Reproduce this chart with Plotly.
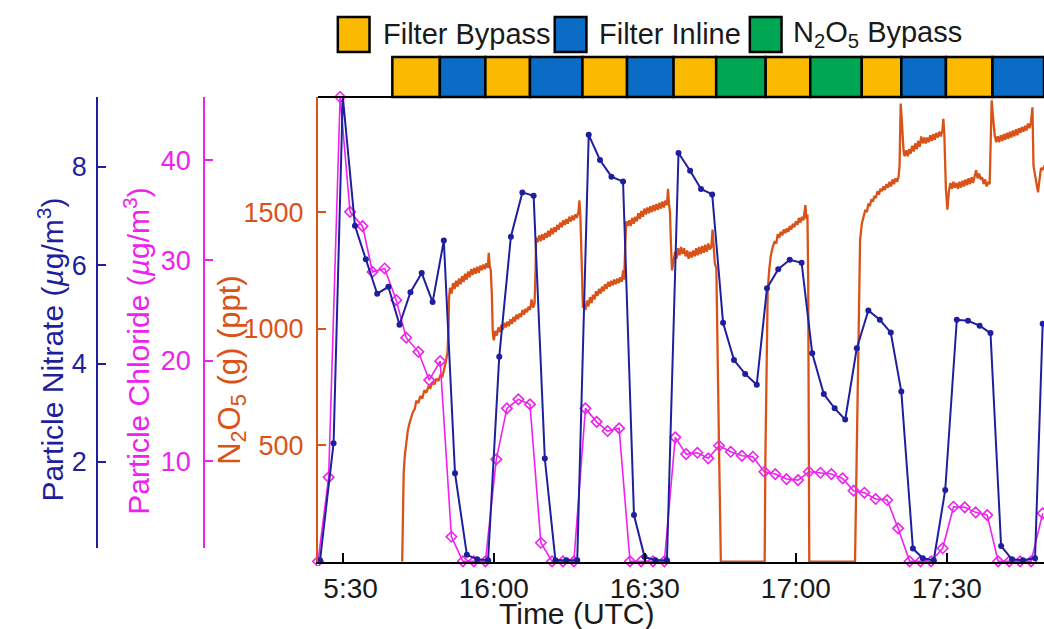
import plotly.graph_objects as go

W, H = 1044, 629
FONT = "Liberation Sans, Arial, Helvetica, sans-serif"
ORANGE = "#d95319"
BLUE = "#1f1f9e"
MAGENTA = "#ee22ee"
TXT = "#1a1a1a"

# ---------------- data (time = minutes after 15:00 UTC) ----------------
# N2O5 (ppt), read segment by segment
n2o5_a = [(41.8, 0), (41.95, 200), (42.1, 380), (42.3, 450), (42.6, 510), (42.9, 560), (43.2, 590),
          (43.5, 610), (43.9, 640), (44.3, 655), (44.6, 690), (45.0, 680), (45.4, 710), (45.8, 700),
          (46.2, 735), (46.6, 725), (47.0, 750), (47.4, 745), (47.8, 770), (48.2, 760), (48.6, 785),
          (49.0, 775), (49.4, 800), (49.8, 795), (50.2, 830), (50.5, 860), (50.8, 900), (51.0, 1000),
          (51.1, 1130)]
n2o5_b = [(51.3, 1175), (51.6, 1150), (51.9, 1195), (52.2, 1170), (52.5, 1205), (52.8, 1180),
          (53.1, 1215), (53.4, 1190), (53.7, 1225), (54.0, 1200), (54.3, 1235), (54.6, 1210),
          (54.9, 1245), (55.2, 1220), (55.5, 1255), (55.8, 1230), (56.1, 1260), (56.4, 1235),
          (56.7, 1265), (57.0, 1240), (57.3, 1270), (57.6, 1250), (57.9, 1275), (58.2, 1255),
          (58.5, 1280), (58.8, 1260), (59.0, 1325), (59.2, 1265), (59.4, 1250), (59.6, 1150),
          (59.8, 980), (60.0, 950)]
n2o5_c = [(60.3, 990), (60.6, 970), (60.9, 1005), (61.2, 985), (61.5, 1015), (61.8, 995), (62.1, 1025),
          (62.4, 1005), (62.7, 1030), (63.0, 1010), (63.3, 1040), (63.6, 1020), (63.9, 1050),
          (64.2, 1030), (64.5, 1060), (64.8, 1040), (65.1, 1065), (65.4, 1050), (65.7, 1080),
          (66.0, 1060), (66.3, 1085), (66.6, 1070), (66.9, 1095), (67.2, 1080), (67.5, 1125),
          (67.8, 1090), (68.1, 1110), (68.3, 1250), (68.4, 1390)]
n2o5_d = [(68.7, 1370), (69.0, 1400), (69.3, 1375), (69.6, 1405), (69.9, 1380), (70.2, 1410),
          (70.5, 1390), (70.8, 1420), (71.1, 1395), (71.4, 1430), (71.7, 1405), (72.0, 1435),
          (72.3, 1415), (72.6, 1445), (72.9, 1425), (73.2, 1455), (73.5, 1435), (73.8, 1465),
          (74.1, 1445), (74.4, 1470), (74.7, 1450), (75.0, 1480), (75.3, 1460), (75.6, 1485),
          (75.9, 1465), (76.2, 1490), (76.5, 1475), (76.8, 1500), (77.0, 1550), (77.2, 1480),
          (77.5, 1250), (77.7, 1090)]
n2o5_e = [(77.9, 1100), (78.2, 1080), (78.5, 1120), (78.8, 1095), (79.1, 1135), (79.4, 1110),
          (79.7, 1145), (80.0, 1125), (80.3, 1160), (80.6, 1140), (80.9, 1170), (81.2, 1150),
          (81.5, 1180), (81.8, 1160), (82.1, 1190), (82.4, 1170), (82.7, 1200), (83.0, 1180),
          (83.3, 1205), (83.6, 1185), (83.9, 1210), (84.2, 1190), (84.5, 1215), (84.8, 1195),
          (85.1, 1220), (85.4, 1200), (85.7, 1250), (85.9, 1210), (86.1, 1350), (86.3, 1460)]
n2o5_f = [(86.6, 1440), (86.9, 1465), (87.2, 1440), (87.5, 1475), (87.8, 1450), (88.1, 1480),
          (88.4, 1460), (88.7, 1495), (89.0, 1470), (89.3, 1505), (89.6, 1480), (89.9, 1515),
          (90.2, 1490), (90.5, 1520), (90.8, 1495), (91.1, 1525), (91.4, 1500), (91.7, 1530),
          (92.0, 1505), (92.3, 1535), (92.6, 1510), (92.9, 1540), (93.2, 1515), (93.5, 1545),
          (93.8, 1520), (94.1, 1550), (94.4, 1530), (94.6, 1600), (94.8, 1535), (95.0, 1500),
          (95.2, 1350), (95.4, 1250)]
n2o5_g = [(95.7, 1290), (96.0, 1330), (96.3, 1300), (96.6, 1345), (96.9, 1315), (97.2, 1350),
          (97.5, 1320), (97.8, 1345), (98.1, 1310), (98.4, 1335), (98.7, 1300), (99.0, 1330),
          (99.3, 1305), (99.6, 1335), (99.9, 1310), (100.2, 1345), (100.5, 1315), (100.8, 1350),
          (101.1, 1320), (101.4, 1355), (101.7, 1325), (102.0, 1360), (102.3, 1330), (102.6, 1365),
          (102.9, 1340), (103.2, 1350), (103.45, 1425), (103.65, 1330), (103.9, 1280), (104.2, 1260),
          (104.5, 900), (104.8, 400), (105.1, 0), (113.8, 0)]
n2o5_h = [(113.95, 450), (114.1, 800), (114.25, 1000), (114.4, 1160), (114.7, 1250), (115.0, 1310),
          (115.4, 1350), (115.8, 1375), (116.1, 1365), (116.4, 1405), (116.7, 1390), (117.0, 1415),
          (117.3, 1400), (117.6, 1425), (117.9, 1410), (118.2, 1430), (118.5, 1415), (118.8, 1440),
          (119.1, 1425), (119.4, 1450), (119.7, 1435), (120.0, 1460), (120.3, 1445), (120.6, 1475),
          (120.9, 1455), (121.2, 1480), (121.5, 1465), (121.9, 1530), (122.1, 1470), (122.3, 1490),
          (122.45, 1200), (122.55, 600), (122.66, 0), (131.75, 0)]
n2o5_i = [(132.0, 350), (132.2, 650), (132.44, 950), (132.6, 1250), (132.76, 1380), (133.1, 1450),
          (133.43, 1480), (133.8, 1510), (134.1, 1500), (134.41, 1537), (134.7, 1525), (135.0, 1555),
          (135.3, 1545), (135.6, 1570), (135.9, 1560), (136.2, 1590), (136.5, 1575), (136.8, 1600),
          (137.1, 1590), (137.4, 1610), (137.7, 1595), (138.0, 1620), (138.3, 1605), (138.6, 1630),
          (138.9, 1610), (139.2, 1640), (139.5, 1620), (139.8, 1645), (140.1, 1630), (140.4, 1650),
          (140.6, 1700), (140.82, 1966)]
n2o5_j = [(141.0, 1910), (141.2, 1830), (141.4, 1760), (141.6, 1740), (141.9, 1765), (142.2, 1740),
          (142.5, 1770), (142.8, 1750), (143.1, 1785), (143.4, 1760), (143.7, 1795), (144.0, 1770),
          (144.3, 1805), (144.6, 1780), (144.9, 1825), (145.2, 1795), (145.5, 1820), (145.8, 1795),
          (146.1, 1820), (146.4, 1800), (146.7, 1830), (147.0, 1805), (147.3, 1835), (147.6, 1810),
          (147.9, 1840), (148.2, 1820), (148.5, 1845), (148.8, 1825), (149.1, 1850), (149.3, 1900),
          (149.5, 1830), (149.8, 1600), (150.1, 1510)]
n2o5_k = [(150.4, 1590), (150.7, 1625), (151.0, 1600), (151.3, 1630), (151.6, 1605), (151.9, 1625),
          (152.2, 1600), (152.5, 1630), (152.8, 1605), (153.1, 1635), (153.4, 1610), (153.7, 1640),
          (154.0, 1615), (154.3, 1645), (154.6, 1620), (154.9, 1650), (155.2, 1625), (155.5, 1660),
          (155.8, 1680), (156.1, 1645), (156.4, 1665), (156.7, 1640), (157.0, 1650), (157.3, 1620),
          (157.6, 1640), (157.9, 1610), (158.2, 1630), (158.5, 1620), (158.7, 1800), (158.9, 1980)]
n2o5_l = [(159.2, 1900), (159.5, 1830), (159.8, 1800), (160.1, 1825), (160.4, 1800), (160.7, 1830),
          (161.0, 1805), (161.3, 1835), (161.6, 1810), (161.9, 1840), (162.2, 1815), (162.5, 1845),
          (162.8, 1820), (163.1, 1850), (163.4, 1825), (163.7, 1855), (164.0, 1830), (164.3, 1860),
          (164.6, 1840), (164.9, 1865), (165.2, 1845), (165.5, 1870), (165.8, 1850), (166.1, 1880),
          (166.4, 1860), (166.7, 1885), (167.0, 1950), (167.2, 1700), (167.5, 1660), (167.8, 1620),
          (168.1, 1585), (168.4, 1640), (168.7, 1690), (169.0, 1680), (169.4, 1700)]

# Particle nitrate (ug/m3)
nitrate = [(25.48, 0.0), (28.17, 2.38), (30.0, 9.43), (32.42, 6.80), (34.58, 6.12), (36.83, 5.42),
           (39.05, 5.56), (41.27, 4.79), (43.44, 5.45), (45.68, 5.84), (47.84, 5.25), (50.07, 6.50),
           (52.29, 1.77), (54.65, 0.11), (56.70, 0.02), (58.86, 0.0), (61.08, 4.14), (63.39, 6.58),
           (65.67, 7.48), (67.91, 7.41), (70.13, 2.07), (72.24, 0.0), (74.40, 0.0), (76.57, 0.0),
           (78.85, 8.65), (81.09, 8.14), (83.37, 7.80), (85.67, 7.70), (87.84, 0.92), (89.94, 0.07),
           (92.11, 0.0), (94.39, 0.0), (96.69, 8.28), (98.99, 7.92), (101.16, 7.55), (103.38, 7.44),
           (105.54, 4.83), (107.71, 4.07), (109.93, 3.79), (112.23, 3.57), (114.26, 5.53),
           (116.50, 5.92), (118.78, 6.11), (121.14, 6.05), (123.25, 4.21), (125.55, 3.38),
           (127.71, 3.09), (129.80, 2.86), (132.10, 4.31), (134.40, 5.08), (136.68, 4.89),
           (138.85, 4.63), (140.95, 3.43), (143.25, 0.24), (145.22, 0.04), (147.39, 0.0),
           (149.67, 1.43), (151.97, 4.89), (154.20, 4.87), (156.50, 4.77), (158.66, 4.62),
           (160.77, 0.29), (162.93, 0.02), (165.10, 0.0), (167.51, 0.04), (169.03, 4.81)]

# Particle chloride (ug/m3)
chloride = [(25.08, 0.0), (27.19, 8.37), (29.47, 46.3), (31.44, 34.85), (33.93, 33.42), (35.90, 28.86),
            (38.32, 29.20), (40.62, 26.04), (42.59, 22.3), (45.01, 20.89), (47.17, 18.07),
            (49.34, 19.96), (51.58, 2.45), (53.86, 0.0), (56.03, 0.0), (58.33, 0.0), (60.49, 10.17),
            (62.60, 15.25), (64.88, 16.15), (67.18, 15.65), (69.35, 1.85), (71.57, 0.0), (73.74, 0.0),
            (75.90, 0.0), (78.20, 15.25), (80.42, 13.91), (82.59, 12.99), (84.89, 13.26), (87.05, 0.0),
            (89.27, 0.0), (91.63, 0.0), (93.88, 0.0), (96.04, 12.36), (98.20, 10.69), (100.43, 10.82),
            (102.59, 10.27), (104.76, 11.52), (107.06, 10.92), (109.28, 10.52), (111.45, 10.43),
            (113.75, 8.93), (115.91, 8.70), (118.14, 8.20), (120.44, 8.10), (122.60, 8.93),
            (124.88, 8.83), (127.05, 8.70), (129.29, 8.27), (131.45, 7.04), (133.62, 6.84),
            (135.84, 6.21), (138.14, 6.11), (140.31, 3.29), (142.59, 0.0), (144.75, 0.0),
            (146.86, 0.0), (149.16, 1.30), (151.32, 5.44), (153.55, 5.38), (155.71, 4.88),
            (158.01, 4.61), (160.18, 0.0), (162.40, 0.0), (164.56, 0.0), (166.73, 0.0), (169.03, 4.78)]

# sampling mode schedule
mode_start = [39.84, 49.28, 58.33, 67.18, 77.61, 86.46, 95.71, 104.17, 114.0, 122.86, 133.09, 140.95,
              149.81, 159.05]
mode_end = mode_start[1:] + [169.3]
mode_kind = ["bypass", "inline", "bypass", "inline", "bypass", "inline", "bypass", "n2o5",
             "bypass", "n2o5", "bypass", "inline", "bypass", "inline"]
mode_labels = {"bypass": "Filter Bypass", "inline": "Filter Inline",
               "n2o5": "N<sub>2</sub>O<sub>5</sub> Bypass"}
mode_colors = {"bypass": "#fbb900", "inline": "#0a6cc4", "n2o5": "#00a651"}

xtick_vals = [30, 60, 90, 120, 150]
xtick_text = ["15:30", "16:00", "16:30", "17:00", "17:30"]
n2o5_ticks = [500, 1000, 1500]
nitrate_ticks = [2, 4, 6, 8]
chloride_ticks = [10, 20, 30, 40]


def px(x):
    return x / W


def py(y):
    return 1 - y / H


n2o5 = n2o5_a + n2o5_b + n2o5_c + n2o5_d + n2o5_e + n2o5_f + n2o5_g + n2o5_h + n2o5_i + n2o5_j + n2o5_k + n2o5_l
n_t, n_v = zip(*n2o5)
ni_t, ni_v = zip(*nitrate)
cl_t, cl_v = zip(*chloride)

fig = go.Figure()
fig.add_trace(go.Scatter(x=n_t, y=n_v, mode="lines", yaxis="y", line=dict(color=ORANGE, width=2.3),
                         showlegend=False, hoverinfo="skip"))
fig.add_trace(go.Scatter(x=cl_t, y=cl_v, mode="lines+markers", yaxis="y2",
                         line=dict(color=MAGENTA, width=1.6),
                         marker=dict(symbol="diamond-open", size=8, color=MAGENTA,
                                     line=dict(width=1.6, color=MAGENTA)),
                         showlegend=False, cliponaxis=False))
fig.add_trace(go.Scatter(x=ni_t, y=ni_v, mode="lines+markers", yaxis="y3",
                         line=dict(color=BLUE, width=2),
                         marker=dict(symbol="circle", size=6, color=BLUE),
                         showlegend=False, cliponaxis=False))
# carriers for the offset (free) axes
fig.add_trace(go.Scatter(x=[None], y=[None], yaxis="y4", showlegend=False, hoverinfo="skip"))
fig.add_trace(go.Scatter(x=[None], y=[None], yaxis="y5", showlegend=False, hoverinfo="skip"))

plot_dom = [py(562), py(97)]
side_dom = [py(548), py(97)]

common_y = dict(showgrid=False, zeroline=False, ticks="inside", ticklen=8, tickwidth=1.5,
                showline=True, linewidth=2)

fig.update_layout(
    width=W, height=H, margin=dict(l=0, r=0, t=0, b=0),
    paper_bgcolor="white", plot_bgcolor="rgba(0,0,0,0)",
    font=dict(family=FONT, color=TXT),
    xaxis=dict(domain=[px(311), 1], range=[25.08, 169.29], tickvals=xtick_vals, ticktext=xtick_text,
               ticks="inside", ticklen=9, tickwidth=1.5, tickcolor="black", showline=True,
               linecolor="black", linewidth=2, showgrid=False, zeroline=False, anchor="y",
               tickfont=dict(size=28, color=TXT, family=FONT), ticklabelstandoff=0),
    yaxis=dict(domain=plot_dom, range=[-2, 1994], tickvals=n2o5_ticks, color=ORANGE,
               linecolor=ORANGE, tickcolor=ORANGE, tickfont=dict(size=27, color=ORANGE, family=FONT),
               ticklabelstandoff=7, **common_y),
    yaxis2=dict(overlaying="y", range=[-0.07, 46.3], visible=False),
    yaxis3=dict(overlaying="y", range=[-0.035, 9.42], visible=False),
    yaxis4=dict(domain=side_dom, range=[0.25, 9.42], anchor="free", position=px(88), side="left",
                tickvals=nitrate_ticks, linecolor=BLUE, tickcolor=BLUE,
                tickfont=dict(size=27, color=BLUE, family=FONT), ticklabelstandoff=4, **common_y),
    yaxis5=dict(domain=side_dom, range=[1.33, 46.3], anchor="free", position=px(196), side="left",
                tickvals=chloride_ticks, linecolor=MAGENTA, tickcolor=MAGENTA,
                tickfont=dict(size=27, color=MAGENTA, family=FONT), ticklabelstandoff=7, **common_y),
)

shapes = []
# top border of plot box
shapes.append(dict(type="line", xref="paper", yref="paper", x0=px(311), x1=1, y0=py(97), y1=py(97),
                   line=dict(color="black", width=2)))
# sampling-mode bar
for s, e, k in zip(mode_start, mode_end, mode_kind):
    shapes.append(dict(type="rect", xref="x", yref="paper", x0=s, x1=e, y0=py(97), y1=py(57),
                       fillcolor=mode_colors[k], line=dict(color="black", width=2.5), layer="above"))
# legend swatches
legend_order = ["bypass", "inline", "n2o5"]
legend_box_x = [331, 550, 747]
legend_text_x = [375, 593, 789]
for k, bx in zip(legend_order, legend_box_x):
    shapes.append(dict(type="rect", xref="paper", yref="paper", x0=px(bx), x1=px(bx + 32),
                       y0=py(52), y1=py(17), fillcolor=mode_colors[k],
                       line=dict(color="black", width=2.5)))
# hide the leading "1" of the first time label (clipped in the original)
shapes.append(dict(type="rect", xref="paper", yref="paper", x0=px(280), x1=px(316.5), y0=py(606),
                   y1=py(566), fillcolor="white", line=dict(width=0), layer="above"))

annotations = []
for k, tx in zip(legend_order, legend_text_x):
    annotations.append(dict(xref="paper", yref="paper", x=px(tx), y=py(34), xanchor="left",
                            yanchor="middle", text=mode_labels[k], showarrow=False,
                            font=dict(size=29, color=TXT, family=FONT)))
annotations += [
    dict(xref="paper", yref="paper", x=px(572), y=py(613), text="Time (UTC)", showarrow=False,
         xanchor="center", yanchor="middle", font=dict(size=30, color=TXT, family=FONT)),
    dict(xref="paper", yref="paper", x=px(41), y=py(350), text="Particle Nitrate (<i>µ</i>g/m<sup>3</sup>)",
         textangle=-90, showarrow=False, xanchor="center", yanchor="middle",
         font=dict(size=30, color=BLUE, family=FONT)),
    dict(xref="paper", yref="paper", x=px(128), y=py(351), text="Particle Chloride (<i>µ</i>g/m<sup>3</sup>)",
         textangle=-90, showarrow=False, xanchor="center", yanchor="middle",
         font=dict(size=30, color=MAGENTA, family=FONT)),
    dict(xref="paper", yref="paper", x=px(224), y=py(370), text="N<sub>2</sub>O<sub>5</sub> (g) (ppt)",
         textangle=-90, showarrow=False, xanchor="center", yanchor="middle",
         font=dict(size=31, color=ORANGE, family=FONT)),
]

fig.update_layout(shapes=shapes, annotations=annotations)
fig.write_html("out.html", post_script="document.body.style.margin='0';")
